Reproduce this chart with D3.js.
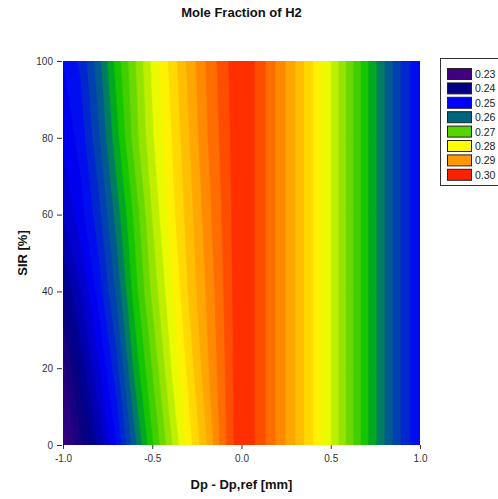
<!DOCTYPE html>
<html>
<head>
    <meta charset="utf-8">
    <style>
        body {
            margin: 0;
            background: #fff;
            font-family: 'Liberation Sans', Arial, sans-serif;
        }

        .axis .domain {
            display: none;
        }

        .axis .tick line {
            stroke: #333;
        }

        .axis .tick text {
            font-size: 10px;
            fill: #333;
            font-family: 'Liberation Sans', Arial, sans-serif;
        }
    </style>
</head>
<body>
    <svg width="498" height="499"></svg>

<script src="https://d3js.org/d3.v7.min.js"></script>
<script>
    // grid the contour map was read on
    let xValues = [-1.0, -0.9, -0.8, -0.7, -0.6, -0.5, -0.4, -0.3, -0.2, -0.1, 0.0,
        0.1, 0.2, 0.3, 0.4, 0.5, 0.6, 0.7, 0.8, 0.9, 1.0]
    let yValues = [0, 20, 40, 60, 80, 100]

    // mole fraction of H2, one row per SIR value (left half changes with SIR, right half does not)
    let h2_sir0 = [0.231, 0.237, 0.243, 0.250, 0.259, 0.267, 0.274, 0.281, 0.287, 0.294, 0.300,
        0.2965, 0.292, 0.2875, 0.2825, 0.2775, 0.2715, 0.2655, 0.260, 0.2545, 0.250]
    let h2_sir20 = [0.234, 0.241, 0.247, 0.254, 0.263, 0.270, 0.277, 0.283, 0.289, 0.2945, 0.300,
        0.2965, 0.292, 0.2875, 0.2825, 0.2775, 0.2715, 0.2655, 0.260, 0.2545, 0.250]
    let h2_sir40 = [0.240, 0.245, 0.251, 0.258, 0.266, 0.273, 0.279, 0.285, 0.290, 0.295, 0.300,
        0.2965, 0.292, 0.2875, 0.2825, 0.2775, 0.2715, 0.2655, 0.260, 0.2545, 0.250]
    let h2_sir60 = [0.245, 0.249, 0.254, 0.261, 0.268, 0.275, 0.281, 0.286, 0.291, 0.2955, 0.300,
        0.2965, 0.292, 0.2875, 0.2825, 0.2775, 0.2715, 0.2655, 0.260, 0.2545, 0.250]
    let h2_sir80 = [0.248, 0.251, 0.257, 0.264, 0.271, 0.277, 0.282, 0.287, 0.292, 0.296, 0.300,
        0.2965, 0.292, 0.2875, 0.2825, 0.2775, 0.2715, 0.2655, 0.260, 0.2545, 0.250]
    let h2_sir100 = [0.250, 0.253, 0.259, 0.266, 0.272, 0.278, 0.283, 0.288, 0.2925, 0.2965, 0.300,
        0.2965, 0.292, 0.2875, 0.2825, 0.2775, 0.2715, 0.2655, 0.260, 0.2545, 0.250]

    let legendLevels = [0.23, 0.24, 0.25, 0.26, 0.27, 0.28, 0.29, 0.30]
    let xTicks = [-1.0, -0.5, 0.0, 0.5, 1.0]
    let yTicks = [0, 20, 40, 60, 80, 100]

    let svg = d3.select("svg")

    let plot = { left: 63, right: 420, top: 61, bottom: 445 }

    let x = d3.scaleLinear()
        .domain([-1, 1])
        .range([plot.left, plot.right])

    let y = d3.scaleLinear()
        .domain([0, 100])
        .range([plot.bottom, plot.top])

    // colour map of the legend
    let color = d3.scaleLinear()
        .domain([0.23, 0.24, 0.25, 0.26, 0.265, 0.27, 0.28, 0.29, 0.30])
        .range(["#400080", "#000080", "#0000ff", "#006680", "#00c000", "#55d400", "#ffff00", "#ff9900", "#ff2000"])
        .clamp(true)

    let rows = [h2_sir0, h2_sir20, h2_sir40, h2_sir60, h2_sir80, h2_sir100]
    let values = rows.flat()
    let nx = xValues.length
    let ny = yValues.length

    let step = 0.0025
    let thresholds = d3.range(0.2275, 0.3, step)

    let contours = d3.contours()
        .size([nx, ny])
        .thresholds(thresholds)(values)

    // grid cell centres sit at i + 0.5 in contour space
    let gx = d3.scaleLinear().domain([0.5, nx - 0.5]).range([x(xValues[0]), x(xValues[nx - 1])])
    let gy = d3.scaleLinear().domain([0.5, ny - 0.5]).range([y(yValues[0]), y(yValues[ny - 1])])

    let path = d3.geoPath(d3.geoTransform({
        point: function (px, py) { this.stream.point(gx(px), gy(py)) }
    }))

    svg.append("clipPath")
        .attr("id", "plot-clip")
        .append("rect")
        .attr("x", plot.left)
        .attr("y", plot.top)
        .attr("width", plot.right - plot.left)
        .attr("height", plot.bottom - plot.top)

    svg.append("g")
        .attr("clip-path", "url(#plot-clip)")
        .selectAll("path")
        .data(contours)
        .join("path")
        .attr("d", path)
        .style("fill", d => color(d.value + step / 2))
        .style("stroke", d => color(d.value + step / 2))
        .style("stroke-width", "0.6px")

    // axes
    svg.append("g")
        .attr("class", "x axis")
        .attr("transform", `translate(0,${plot.bottom})`)
        .call(d3.axisBottom(x).tickValues(xTicks).tickFormat(d => d.toFixed(1)).tickSize(4).tickPadding(6))

    svg.append("g")
        .attr("class", "y axis")
        .attr("transform", `translate(${plot.left - 1},0)`)
        .call(d3.axisLeft(y).tickValues(yTicks).tickSize(5).tickPadding(4))

    // titles
    svg.append("text")
        .attr("x", (plot.left + plot.right) / 2)
        .attr("y", 17)
        .attr("text-anchor", "middle")
        .style("font-size", "13px")
        .style("font-weight", "bold")
        .style("fill", "#111")
        .text("Mole Fraction of H2")

    svg.append("text")
        .attr("x", (plot.left + plot.right) / 2)
        .attr("y", 489)
        .attr("text-anchor", "middle")
        .style("font-size", "13px")
        .style("font-weight", "bold")
        .style("fill", "#111")
        .text("Dp - Dp,ref [mm]")

    svg.append("text")
        .attr("transform", `translate(27,${(plot.top + plot.bottom) / 2}) rotate(-90)`)
        .attr("text-anchor", "middle")
        .style("font-size", "13px")
        .style("font-weight", "bold")
        .style("fill", "#111")
        .text("SIR [%]")

    // legend
    let legend = svg.append("g")

    legend.append("rect")
        .attr("x", 440.5)
        .attr("y", 58.5)
        .attr("width", 70)
        .attr("height", 127)
        .style("fill", "#fff")
        .style("stroke", "#333")

    let items = legend.selectAll(".item")
        .data(legendLevels)
        .join("g")
        .attr("class", "item")
        .attr("transform", (d, i) => `translate(447,${68 + i * 14.4})`)

    items.append("rect")
        .attr("x", 0.5)
        .attr("y", 0.5)
        .attr("width", 24)
        .attr("height", 11)
        .style("fill", d => color(d))
        .style("stroke", "#222")

    items.append("text")
        .attr("x", 28)
        .attr("y", 10)
        .style("font-size", "10.5px")
        .style("fill", "#222")
        .text(d => d3.format(".2f")(d))
</script>
</body>
</html>
